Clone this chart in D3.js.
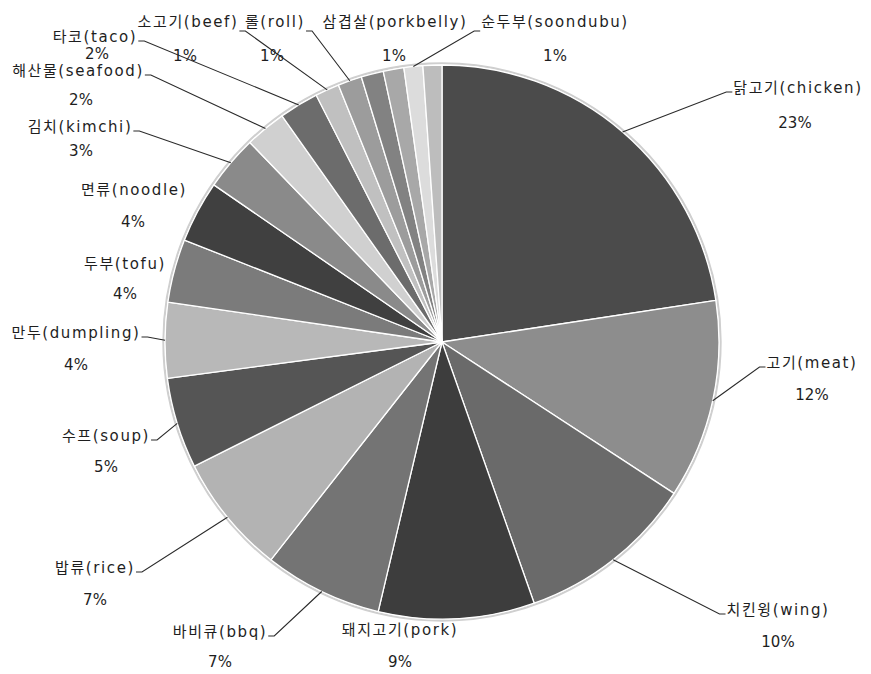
<!DOCTYPE html>
<html>
<head>
<meta charset="utf-8">
<script src="https://cdn.jsdelivr.net/npm/d3@7/dist/d3.min.js"></script>
<style>
  html, body { margin: 0; padding: 0; background: #fff; }
  svg { display: block; }
  .name { font-family: "DejaVu Sans", "Noto Sans CJK KR", sans-serif; font-size: 15px; letter-spacing: 1.6px; fill: #1e1e1e; }
  .pct { font-family: "DejaVu Sans", "Noto Sans CJK KR", sans-serif; font-size: 15px; fill: #1e1e1e; }
</style>
</head>
<body>
<svg id="chart" width="871" height="674"></svg>
<script>
// Food categories, clockwise from twelve o'clock (empty name = slice without a label)
const categories = [
  "닭고기(chicken)", "고기(meat)", "치킨윙(wing)", "돼지고기(pork)", "바비큐(bbq)",
  "밥류(rice)", "수프(soup)", "만두(dumpling)", "두부(tofu)", "면류(noodle)",
  "김치(kimchi)", "해산물(seafood)", "타코(taco)", "소고기(beef)", "롤(roll)",
  "삼겹살(porkbelly)", "", "순두부(soondubu)", ""
];
// Share of mentions (%)
const values = [
  22.6, 11.6, 10.4, 9.1, 6.9,
  7.0, 5.3, 4.4, 3.7, 3.6,
  3.2, 2.4, 2.3, 1.4, 1.4,
  1.3, 1.2, 1.1, 1.1
];
// Grey fill for each slice
const fills = [
  "#4b4b4b", "#8d8d8d", "#6a6a6a", "#3d3d3d", "#747474",
  "#b3b3b3", "#555555", "#b8b8b8", "#7b7b7b", "#404040",
  "#8a8a8a", "#d0d0d0", "#6c6c6c", "#c0c0c0", "#9c9c9c",
  "#828282", "#a8a8a8", "#dcdcdc", "#bdbdbd"
];
// Label placement: [name x, name y, percent x, percent y, draw leader]
const labelLayout = [
  [798, 88, 795, 123, true],
  [812, 363, 812, 395, true],
  [778, 610, 778, 642, true],
  [400, 630, 400, 662, false],
  [220, 632, 220, 662, true],
  [95, 568, 95, 600, true],
  [106, 436, 106, 467, true],
  [76, 333, 76, 365, true],
  [125, 264, 125, 294, false],
  [134, 190, 133, 222, false],
  [80, 127, 81, 151, true],
  [78, 71, 81, 100, true],
  [95, 37, 97, 54, true],
  [188, 22, 185, 56, true],
  [275, 22, 272, 56, true],
  [395, 22, 394, 56, false],
  null,
  [555, 22, 555, 56, true],
  null
];

const cx = 442, cy = 342, radius = 277;
const svg = d3.select("#chart");
const g = svg.append("g").attr("transform", `translate(${cx},${cy})`);

const total = d3.sum(values);
const pie = d3.pie().sort(null).value(d => d.value);
const arcs = pie(values.map((v, i) => ({ name: categories[i], value: v, i })));

const arc = d3.arc().innerRadius(0).outerRadius(radius);
const rim = d3.arc().innerRadius(radius).outerRadius(radius);

// soft outline around the pie
g.append("circle")
  .attr("r", radius + 1.6)
  .attr("fill", "none")
  .attr("stroke", "#cfcfcf")
  .attr("stroke-width", 2.2);

g.selectAll("path.slice")
  .data(arcs)
  .join("path")
  .attr("class", "slice")
  .attr("d", arc)
  .attr("fill", d => fills[d.data.i])
  .attr("stroke", "#ffffff")
  .attr("stroke-width", 1.3)
  .attr("stroke-linejoin", "round");

// labels and leader lines
const labels = svg.append("g");
arcs.forEach(d => {
  const lay = labelLayout[d.data.i];
  if (!lay || !d.data.name) return;
  const [nx, ny, px, py, leader] = lay;
  const nameText = labels.append("text")
    .attr("class", "name")
    .attr("x", nx).attr("y", ny)
    .attr("text-anchor", "middle")
    .attr("dominant-baseline", "central")
    .text(d.data.name);
  labels.append("text")
    .attr("class", "pct")
    .attr("x", px).attr("y", py)
    .attr("text-anchor", "middle")
    .attr("dominant-baseline", "central")
    .text(Math.round(d.data.value / total * 100) + "%");

  if (leader) {
    const bb = nameText.node().getBBox();
    const [ax, ay] = rim.centroid(d);
    const tx = ax + cx, ty = ay + cy;
    const leftSide = tx < nx;
    const sx = leftSide ? bb.x - 1 : bb.x + bb.width + 1;
    const sy = ny + (ny < 30 ? 9 : 4);
    const kx = leftSide ? sx - 6 : sx + 6;
    labels.append("path")
      .attr("d", `M${sx},${sy}L${kx},${sy}L${tx},${ty}`)
      .attr("fill", "none")
      .attr("stroke", "#2a2a2a")
      .attr("stroke-width", 1.1);
  }
});
</script>
</body>
</html>
